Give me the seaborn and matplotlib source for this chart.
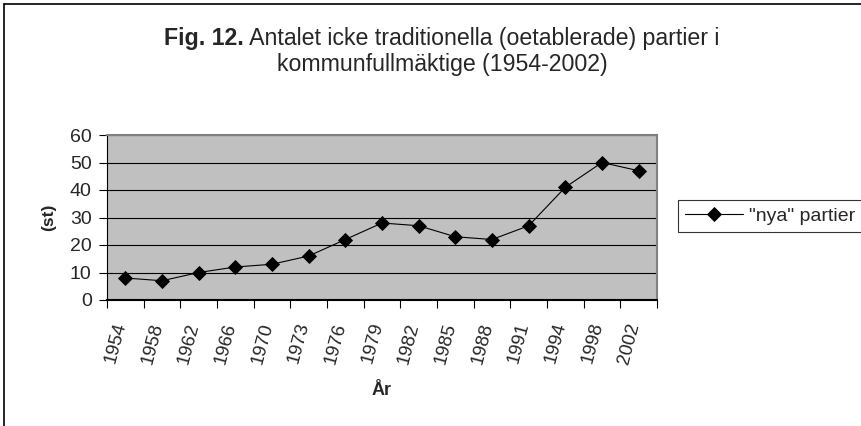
import matplotlib
matplotlib.use("Agg")
import matplotlib.pyplot as plt
import matplotlib.transforms as mtransforms
import seaborn as sns
import pandas as pd
import numpy as np
from matplotlib.ticker import FixedLocator, NullFormatter

years = ["1954", "1958", "1962", "1966", "1970", "1973", "1976", "1979",
         "1982", "1985", "1988", "1991", "1994", "1998", "2002"]
values = [8, 7, 10, 12, 13, 16, 22, 28, 27, 23, 22, 27, 41, 50, 47]
series_name = '"nya" partier'
yticks = [0, 10, 20, 30, 40, 50, 60]

sns.set_style("white")
plt.rcParams['font.family'] = ['Liberation Sans', 'DejaVu Sans']

df = pd.DataFrame({"År": years, "value": values, "serie": series_name})

W, H = 861, 426
fig = plt.figure(figsize=(W / 100, H / 100), dpi=100)
ax = fig.add_axes([107 / W, 1 - 300 / H, (657 - 107) / W, (300 - 135) / H])

sns.pointplot(data=df, x="År", y="value", hue="serie", palette=["black"],
              markers="D", linestyles="-", ax=ax, markersize=7, linewidth=0.8,
              errorbar=None)

ax.set_facecolor("#C0C0C0")
ax.set_xlim(-0.5, len(years) - 0.5)
ax.set_ylim(0, 60)
ax.set_yticks(yticks)
ax.yaxis.grid(True, color="black", linewidth=0.8)
ax.set_axisbelow(True)
for s in ["top", "right"]:
    ax.spines[s].set_color("#808080")
    ax.spines[s].set_linewidth(1.5)
ax.spines["left"].set_color("black")
ax.spines["bottom"].set_color("black")
ax.spines["left"].set_linewidth(0.8)
ax.spines["bottom"].set_linewidth(1.5)

ax.tick_params(axis="x", which="major", length=0, pad=15, labelsize=13.5)
ax.xaxis.set_minor_locator(FixedLocator(np.arange(-0.5, len(years), 1.0)))
ax.xaxis.set_minor_formatter(NullFormatter())
ax.tick_params(axis="x", which="minor", length=6, width=0.8, color="black", direction="out", bottom=True)
ax.tick_params(axis="y", length=6, width=0.8, color="black", direction="out", left=True, labelsize=14, pad=5)
offset = mtransforms.ScaledTranslation(4 / 100, 0, fig.dpi_scale_trans)
for lab in ax.get_xticklabels():
    lab.set_rotation(75)
    lab.set_ha("right")
    lab.set_va("top")
    lab.set_transform(lab.get_transform() + offset)

ax.set_xlabel("År", fontsize=13, fontweight="bold", labelpad=12)
ax.set_ylabel("(st)", fontsize=12.5, fontweight="bold", labelpad=10)

leg = ax.get_legend()
if leg is not None:
    leg.remove()
handles, labels = ax.get_legend_handles_labels()
leg = fig.legend(handles, labels, loc="center left", bbox_to_anchor=(678 / W, 1 - 216 / H),
                 frameon=True, fancybox=False, edgecolor="black", fontsize=14,
                 borderpad=0.35, handlelength=3.0, handletextpad=0.3, borderaxespad=0)
leg.get_frame().set_linewidth(0.8)

# Title with bold prefix
TFS = 16.7
t1a = fig.text(0, 1 - 38 / H, "Fig. 12.", fontsize=TFS, fontweight="bold", va="center", ha="left")
t1b = fig.text(0, 1 - 38 / H, " Antalet icke traditionella (oetablerade) partier i", fontsize=TFS, va="center", ha="left")
fig.text(442 / W, 1 - 64 / H, "kommunfullmäktige (1954-2002)", fontsize=TFS, va="center", ha="center")
fig.canvas.draw()
r = fig.canvas.get_renderer()
wa = t1a.get_window_extent(r).width
wb = t1b.get_window_extent(r).width
x0 = 442 - (wa + wb) / 2
t1a.set_x(x0 / W)
t1b.set_x((x0 + wa) / W)

# chart area border
fig.add_artist(plt.Line2D([4 / W, 4 / W], [0, 1 - 4 / H], color="black", linewidth=1.2, transform=fig.transFigure))
fig.add_artist(plt.Line2D([4 / W, 1], [1 - 4 / H, 1 - 4 / H], color="black", linewidth=1.2, transform=fig.transFigure))

fig.savefig("out.png", dpi=100)
